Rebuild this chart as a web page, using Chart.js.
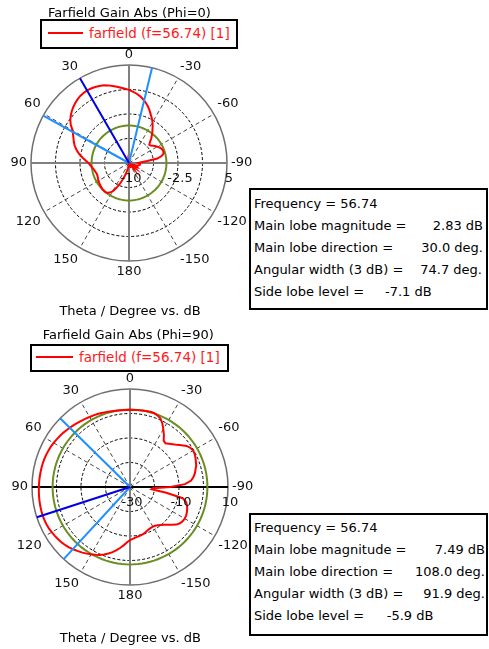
<!DOCTYPE html>
<html>
<head>
<meta charset="utf-8">
<script src="https://cdn.jsdelivr.net/npm/chart.js@4/dist/chart.umd.min.js"></script>
<style>
  html, body { margin: 0; padding: 0; background: #fff; }
  body { width: 489px; height: 649px; position: relative; overflow: hidden;
         font-family: "DejaVu Sans", sans-serif; font-size: 13px; color: #000; }
  canvas { position: absolute; left: 0; }
  .t { position: absolute; white-space: pre; line-height: 16px; height: 16px; }
  .c { width: 300px; text-align: center; }
  .r { text-align: right; width: 200px; }
  .box { position: absolute; border: 2px solid #000; box-sizing: border-box; background: #fff; }
  .leg { color: #ff1a1a; font-size: 13.5px; }
  .line { position: absolute; height: 2px; background: #ff0000; }
</style>
</head>
<body>
<canvas id="cutPhi0" width="489" height="325" style="top:0"></canvas>
<canvas id="cutPhi90" width="489" height="324" style="top:325px"></canvas>

<!-- Phi = 0 cut -->
<div class="t c" style="left:-20.5px; top:5px">Farfield Gain Abs (Phi=0)</div>
<div class="box" style="left:40px; top:19px; width:198px; height:30px"></div>
<div class="line" style="left:48px; top:32px; width:35px"></div>
<div class="t leg" style="left:89px; top:25px">farfield (f=56.74) [1]</div>
<div class="t c" style="left:-20px; top:303px">Theta / Degree vs. dB</div>

<div class="box" style="left:249px; top:188px; width:239px; height:122px"></div>
<div class="t" style="left:254px; top:196px">Frequency = 56.74</div>
<div class="t" style="left:254px; top:218px">Main lobe magnitude =</div>
<div class="t r" style="left:283px; top:218px">2.83 dB</div>
<div class="t" style="left:254px; top:240px">Main lobe direction =</div>
<div class="t r" style="left:283px; top:240px">30.0 deg.</div>
<div class="t" style="left:254px; top:262px">Angular width (3 dB) =</div>
<div class="t r" style="left:282px; top:262px">74.7 deg.</div>
<div class="t" style="left:254px; top:284px">Side lobe level =</div>
<div class="t" style="left:385px; top:284px">-7.1 dB</div>

<!-- Phi = 90 cut -->
<div class="t c" style="left:-21.7px; top:327px">Farfield Gain Abs (Phi=90)</div>
<div class="box" style="left:30px; top:344px; width:199px; height:28px"></div>
<div class="line" style="left:36px; top:356px; width:37px"></div>
<div class="t leg" style="left:79px; top:349px">farfield (f=56.74) [1]</div>
<div class="t c" style="left:-19.7px; top:630px">Theta / Degree vs. dB</div>

<div class="box" style="left:249px; top:513px; width:239px; height:123px"></div>
<div class="t" style="left:254px; top:520px">Frequency = 56.74</div>
<div class="t" style="left:254px; top:542px">Main lobe magnitude =</div>
<div class="t r" style="left:285px; top:542px">7.49 dB</div>
<div class="t" style="left:254px; top:564px">Main lobe direction =</div>
<div class="t r" style="left:285px; top:564px">108.0 deg.</div>
<div class="t" style="left:254px; top:586px">Angular width (3 dB) =</div>
<div class="t r" style="left:285px; top:586px">91.9 deg.</div>
<div class="t" style="left:254px; top:608px">Side lobe level =</div>
<div class="t" style="left:386.7px; top:608px">-5.9 dB</div>

<script>
// Theta sampling (degrees, counter-clockwise from the 0 direction at the top)
const theta = [
  0, 3, 6, 9, 12, 15, 18, 21, 24, 27, 30, 33, 36, 39, 42, 45, 48, 51, 54, 57,
  60, 63, 66, 69, 72, 75, 78, 81, 84, 87, 90, 93, 96, 99, 102, 105, 108, 111, 114, 117,
  120, 123, 126, 129, 132, 135, 138, 141, 144, 147, 150, 153, 156, 159, 162, 165, 168, 171, 174, 177,
  180, 183, 186, 189, 192, 195, 198, 201, 204, 207, 210, 213, 216, 219, 222, 225, 228, 231, 234, 237,
  240, 243, 246, 249, 252, 255, 258, 261, 264, 267, 270, 273, 276, 279, 282, 285, 288, 291, 294, 297,
  300, 303, 306, 309, 312, 315, 318, 321, 324, 327, 330, 333, 336, 339, 342, 345, 348, 351, 354, 357
];

// Gain (dB) of the Phi=0 cut, one value per theta
const gainPhi0 = [
  1.20, 1.38, 1.58, 1.82, 2.06, 2.30, 2.50, 2.63, 2.73, 2.80,
  2.83, 2.78, 2.68, 2.52, 2.32, 2.08, 1.80, 1.48, 1.10, 0.62,
  -0.05, -0.38, -0.70, -0.95, -1.25, -1.60, -2.00, -2.45, -2.95, -3.40,
  -3.80, -4.05, -4.25, -4.45, -4.60, -4.70, -4.78, -4.80, -4.76, -4.68,
  -4.60, -4.54, -4.48, -4.42, -4.36, -4.31, -4.28, -4.27, -4.35, -4.60,
  -5.00, -5.70, -6.45, -7.25, -7.95, -8.60, -9.10, -9.50, -9.80, -10.40,
  -10.80, -9.70, -9.40, -10.20, -11.00, -10.60, -9.60, -9.20, -9.50, -10.30,
  -10.90, -10.20, -9.40, -8.90, -9.20, -9.80, -9.30, -8.80, -9.10, -9.60,
  -9.00, -8.70, -8.90, -9.20, -8.80, -8.50, -8.40, -8.30, -8.30, -8.40,
  -8.60, -8.30, -7.20, -5.60, -4.90, -4.55, -4.45, -4.48, -4.60, -4.78,
  -5.00, -5.25, -5.50, -5.75, -5.82, -5.45, -4.90, -4.40, -3.90, -3.35,
  -2.80, -2.30, -1.85, -1.30, -0.80, -0.35, 0.05, 0.40, 0.70, 0.95
];

// Gain (dB) of the Phi=90 cut, one value per theta
const gainPhi90 = [
  1.48, 1.48, 1.52, 1.60, 1.72, 1.90, 2.14, 2.38, 2.62, 2.82,
  3.00, 3.24, 3.50, 3.80, 4.12, 4.44, 4.74, 5.10, 5.40, 5.70,
  6.00, 6.25, 6.47, 6.65, 6.80, 6.90, 6.97, 7.03, 7.08, 7.14,
  7.20, 7.26, 7.32, 7.38, 7.43, 7.47, 7.49, 7.45, 7.34, 7.16,
  6.90, 6.60, 6.28, 5.93, 5.50, 5.00, 4.32, 3.70, 3.10, 2.42,
  1.70, 1.05, 0.35, -0.50, -1.45, -2.50, -3.70, -4.90, -6.15, -7.40,
  -8.30, -8.80, -9.20, -9.50, -9.75, -10.00, -10.35, -10.75, -11.10, -11.25,
  -11.30, -11.15, -10.70, -10.10, -9.30, -8.20, -7.00, -5.60, -4.80, -4.40,
  -4.20, -4.30, -4.60, -5.00, -5.50, -6.30, -8.00, -15.00, -21.20, -20.70,
  -13.50, -7.50, -4.90, -3.80, -2.90, -2.30, -1.60, -1.20, -0.75, -0.35,
  -0.25, -0.60, -1.50, -2.90, -4.30, -5.30, -6.20, -7.00, -6.60, -4.60,
  -2.80, -0.90, 0.60, 1.30, 1.75, 1.80, 1.72, 1.63, 1.55, 1.50
];

// Radial (dB) ticks of each cut; every other one carries a label
const radialTicksPhi0 = [-10, -6.25, -2.5, 1.25, 5];
const radialTicksPhi90 = [-30, -20, -10, 0, 10];

// Angle tick labels around the rim
const angleTicks = [0, 30, 60, 90, 120, 150, 180, 210, 240, 270, 300, 330];
const angleTickLabels = ['0', '30', '60', '90', '120', '150', '180', '-150', '-120', '-90', '-60', '-30'];

// Main lobe, 3 dB beam edges and side lobe level of each cut
const mainDirection = [30.0, 108.0];      // deg
const mainMagnitude = [2.83, 7.49];       // dB
const beamEdgesPhi0 = [-13.6, 61.1];      // deg, 74.7 deg apart
const beamEdgesPhi90 = [45.5, 137.4];     // deg, 91.9 deg apart
const sideLobeLevel = [-7.1, -5.9];       // dB relative to main lobe

const FONT = '13px "DejaVu Sans", sans-serif';

function polarCut(canvasId, gain, radialTicks, mainDir, mainMag, edges, sideLobe, pad, horizAxisColor) {
  const n = theta.length;
  const rMin = radialTicks[0];
  const rMax = radialTicks[radialTicks.length - 1];
  const lastTick = radialTicks.length - 1;

  // radar runs clockwise from the top, theta runs counter-clockwise
  const labels = [], trace = [], sideRing = [];
  for (let i = 0; i < n; i++) {
    const k = (n - i) % n;
    const t = theta[k];
    labels.push(String(t > 180 ? t - 360 : t));
    trace.push(Math.max(gain[k], rMin));
    sideRing.push(mainMag + sideLobe);
  }
  const indexOf = deg => (((-deg / 360) * n) % n + n) % n;

  const decor = {
    id: 'polarDecor',
    afterDatasetsDraw(chart) {
      const s = chart.scales.r;
      const ctx = chart.ctx;
      const R = s.getDistanceFromCenterForValue(rMax);
      ctx.save();

      // 3 dB beam edges and main lobe direction
      const ray = (deg, color) => {
        const p = s.getPointPosition(indexOf(deg), R);
        ctx.strokeStyle = color;
        ctx.lineWidth = 2;
        ctx.beginPath();
        ctx.moveTo(s.xCenter, s.yCenter);
        ctx.lineTo(p.x, p.y);
        ctx.stroke();
      };
      edges.forEach(d => ray(d, '#1e90ff'));
      ray(mainDir, '#0000e6');

      // angle labels outside the rim
      ctx.font = FONT;
      ctx.fillStyle = '#111';
      ctx.textAlign = 'center';
      ctx.textBaseline = 'middle';
      angleTicks.forEach((deg, j) => {
        const txt = angleTickLabels[j];
        const p = s.getPointPosition(indexOf(deg), R + 4);
        const dx = p.x - s.xCenter, dy = p.y - s.yCenter;
        const sx = Math.abs(dx) < R * 0.1 ? 0 : Math.sign(dx);
        const sy = Math.abs(dy) < R * 0.1 ? 0 : Math.sign(dy);
        const w = ctx.measureText(txt).width;
        ctx.fillText(txt, p.x + sx * w / 2, p.y + sy * (sx === 0 ? 6.5 : 8));
      });

      // dB labels along the right-hand axis
      radialTicks.forEach((v, j) => {
        if (j % 2) return;
        const d = s.getDistanceFromCenterForValue(v);
        ctx.fillText(String(v), s.xCenter + d + 2, s.yCenter + 16);
      });
      ctx.restore();
    }
  };

  return new Chart(document.getElementById(canvasId), {
    type: 'radar',
    data: {
      labels,
      datasets: [
        { data: trace, borderColor: '#ff0000', borderWidth: 2, pointRadius: 0, fill: false, tension: 0 },
        { data: sideRing, borderColor: '#6b8e23', borderWidth: 2, pointRadius: 0, fill: false, tension: 0 }
      ]
    },
    options: {
      responsive: false,
      animation: false,
      events: [],
      layout: { padding: pad },
      plugins: { legend: { display: false }, title: { display: false }, tooltip: { enabled: false } },
      scales: {
        r: {
          min: rMin,
          max: rMax,
          afterBuildTicks: sc => { sc.ticks = radialTicks.map(v => ({ value: v })); },
          ticks: { display: false },
          pointLabels: { display: false },
          grid: {
            circular: true,
            color: c => (c.index === lastTick ? '#6e6e6e' : '#000'),
            lineWidth: c => (c.index === lastTick ? 1.5 : 1),
            borderDash: c => (c.index === lastTick ? [] : [3, 2])
          },
          border: { dash: c => (c.index === lastTick ? [] : [3, 2]) },
          angleLines: {
            display: true,
            lineWidth: c => (c.index % 10 !== 0 ? 0 : (c.index % 30 === 0 ? 2 : 1)),
            color: c => {
              if (c.index % 30 === 0) return (c.index % 60 === 30) ? horizAxisColor : '#808080';
              return '#444';
            },
            borderDash: c => (c.index % 30 === 0 ? [] : [4, 3])
          }
        }
      }
    },
    plugins: [decor]
  });
}

polarCut('cutPhi0', gainPhi0, radialTicksPhi0, mainDirection[0], mainMagnitude[0],
  beamEdgesPhi0, sideLobeLevel[0], { left: 31, top: 65, right: 262, bottom: 64 }, '#808080');
polarCut('cutPhi90', gainPhi90, radialTicksPhi90, mainDirection[1], mainMagnitude[1],
  beamEdgesPhi90, sideLobeLevel[1], { left: 32, top: 64, right: 261, bottom: 64 }, '#000');
</script>
</body>
</html>
